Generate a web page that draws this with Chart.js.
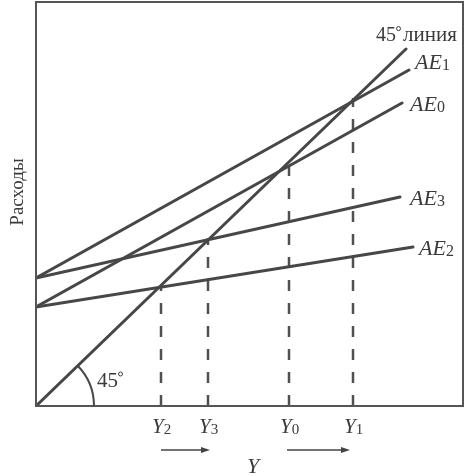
<!DOCTYPE html>
<html>
<head>
<meta charset="utf-8">
<script src="https://cdn.jsdelivr.net/npm/chart.js@4"></script>
<style>
  html, body { margin: 0; padding: 0; background: #fff; }
  #wrap { width: 466px; height: 476px; }
</style>
</head>
<body>
<div id="wrap"><canvas id="c" width="466" height="476"></canvas></div>
<script>
// line end points (x = output Y, y = spending)
const line45 = [{x: 0, y: 0}, {x: 370, y: 357}];
const ae1 = [{x: 0, y: 128}, {x: 373, y: 336}];
const ae0 = [{x: 0, y: 99}, {x: 366, y: 303}];
const ae3 = [{x: 0, y: 128}, {x: 364, y: 209}];
const ae2 = [{x: 0, y: 99}, {x: 377, y: 159}];

// equilibrium points: Y2, Y3, Y0, Y1
const eqX = [125, 172, 253, 317];
const eqY = [119, 168, 240, 308];
const eqSubs = ['2', '3', '0', '1'];

// shift arrows under the axis
const arrowFrom = [125, 251];
const arrowTo = [174, 314];

const lineColor = '#474747';
const serif = '"Liberation Serif", "DejaVu Serif", serif';

const solid = (data) => ({
    data: data,
    showLine: true,
    borderColor: lineColor,
    borderWidth: 3,
    pointRadius: 0,
    borderCapStyle: 'round'
});

const dashed = eqX.map((x, i) => ({
    data: [{x: x, y: 0}, {x: x, y: eqY[i]}],
    showLine: true,
    borderColor: '#505050',
    borderWidth: 2.5,
    borderDash: [11, 12],
    pointRadius: 0
}));

function subText(ctx, main, sub, x, y, size) {
    ctx.font = `italic ${size}px ${serif}`;
    ctx.textBaseline = 'alphabetic';
    ctx.textAlign = 'left';
    ctx.fillText(main, x, y);
    const w = ctx.measureText(main).width;
    ctx.font = `${Math.round(size * 0.72)}px ${serif}`;
    ctx.fillText(sub, x + w, y + size * 0.05);
}

// "45" followed by a small raised degree ring
function degText(ctx, num, x, y, size) {
    ctx.font = `${size}px ${serif}`;
    ctx.textAlign = 'left';
    ctx.textBaseline = 'alphabetic';
    ctx.fillText(num, x, y);
    const w = ctx.measureText(num).width;
    ctx.save();
    ctx.lineWidth = 1;
    ctx.beginPath();
    ctx.arc(x + w + 2.5, y - size * 0.62, 2, 0, Math.PI * 2);
    ctx.stroke();
    ctx.restore();
    return w + 6;
}

const decor = {
    id: 'decor',
    afterDatasetsDraw(chart) {
        const ctx = chart.ctx;
        const a = chart.chartArea;
        const xs = chart.scales.x, ys = chart.scales.y;
        const px = v => xs.getPixelForValue(v);
        const py = v => ys.getPixelForValue(v);
        ctx.save();

        // frame
        ctx.strokeStyle = '#555';
        ctx.lineWidth = 2;
        ctx.strokeRect(a.left, a.top, a.right - a.left, a.bottom - a.top);

        ctx.fillStyle = '#3a3a3a';
        ctx.strokeStyle = '#3a3a3a';

        // line labels
        const w45 = degText(ctx, '45', 376, 41, 20);
        ctx.font = `21px ${serif}`;
        ctx.fillText('линия', 376 + w45 + 1, 41);
        subText(ctx, 'AE', '1', px(ae1[1].x) + 6, py(ae1[1].y) - 1, 22);
        subText(ctx, 'AE', '0', px(ae0[1].x) + 8, py(ae0[1].y) + 8, 22);
        subText(ctx, 'AE', '3', px(ae3[1].x) + 10, py(ae3[1].y) + 8, 22);
        subText(ctx, 'AE', '2', px(ae2[1].x) + 6, py(ae2[1].y) + 8, 22);

        // 45 degree arc
        ctx.strokeStyle = lineColor;
        ctx.lineWidth = 2;
        ctx.beginPath();
        ctx.arc(px(0), py(0), 58, -Math.atan2(py(0) - py(line45[1].y), px(line45[1].x) - px(0)), 0);
        ctx.stroke();
        ctx.strokeStyle = '#3a3a3a';
        degText(ctx, '45', 97, 387, 21);

        // tick labels under the axis
        eqX.forEach((x, i) => {
            subText(ctx, 'Y', eqSubs[i], px(x) - 9, a.bottom + 27, 21);
        });

        // arrows
        ctx.strokeStyle = '#444';
        ctx.fillStyle = '#444';
        ctx.lineWidth = 1.5;
        arrowFrom.forEach((x0, i) => {
            const x1 = px(arrowTo[i]);
            const yy = a.bottom + 44;
            ctx.beginPath();
            ctx.moveTo(px(x0), yy);
            ctx.lineTo(x1 - 6, yy);
            ctx.stroke();
            ctx.beginPath();
            ctx.moveTo(x1, yy);
            ctx.lineTo(x1 - 9, yy - 3);
            ctx.lineTo(x1 - 9, yy + 3);
            ctx.closePath();
            ctx.fill();
        });

        // axis titles
        ctx.fillStyle = '#3a3a3a';
        ctx.font = `italic 22px ${serif}`;
        ctx.textAlign = 'center';
        ctx.fillText('Y', px(217), a.bottom + 67);

        ctx.translate(18, 192);
        ctx.rotate(-Math.PI / 2);
        ctx.font = `19px ${serif}`;
        ctx.textAlign = 'center';
        ctx.textBaseline = 'middle';
        ctx.fillText('Расходы', 0, 0);
        ctx.restore();
    }
};

new Chart(document.getElementById('c'), {
    type: 'scatter',
    data: {
        datasets: [solid(line45), solid(ae1), solid(ae0), solid(ae3), solid(ae2)].concat(dashed)
    },
    options: {
        responsive: false,
        animation: false,
        layout: { padding: { left: 36, top: 2, right: 3, bottom: 70 } },
        plugins: { legend: { display: false }, tooltip: { enabled: false } },
        scales: {
            x: { type: 'linear', min: 0, max: 427, display: false },
            y: { type: 'linear', min: 0, max: 404, display: false }
        }
    },
    plugins: [decor]
});
</script>
</body>
</html>
